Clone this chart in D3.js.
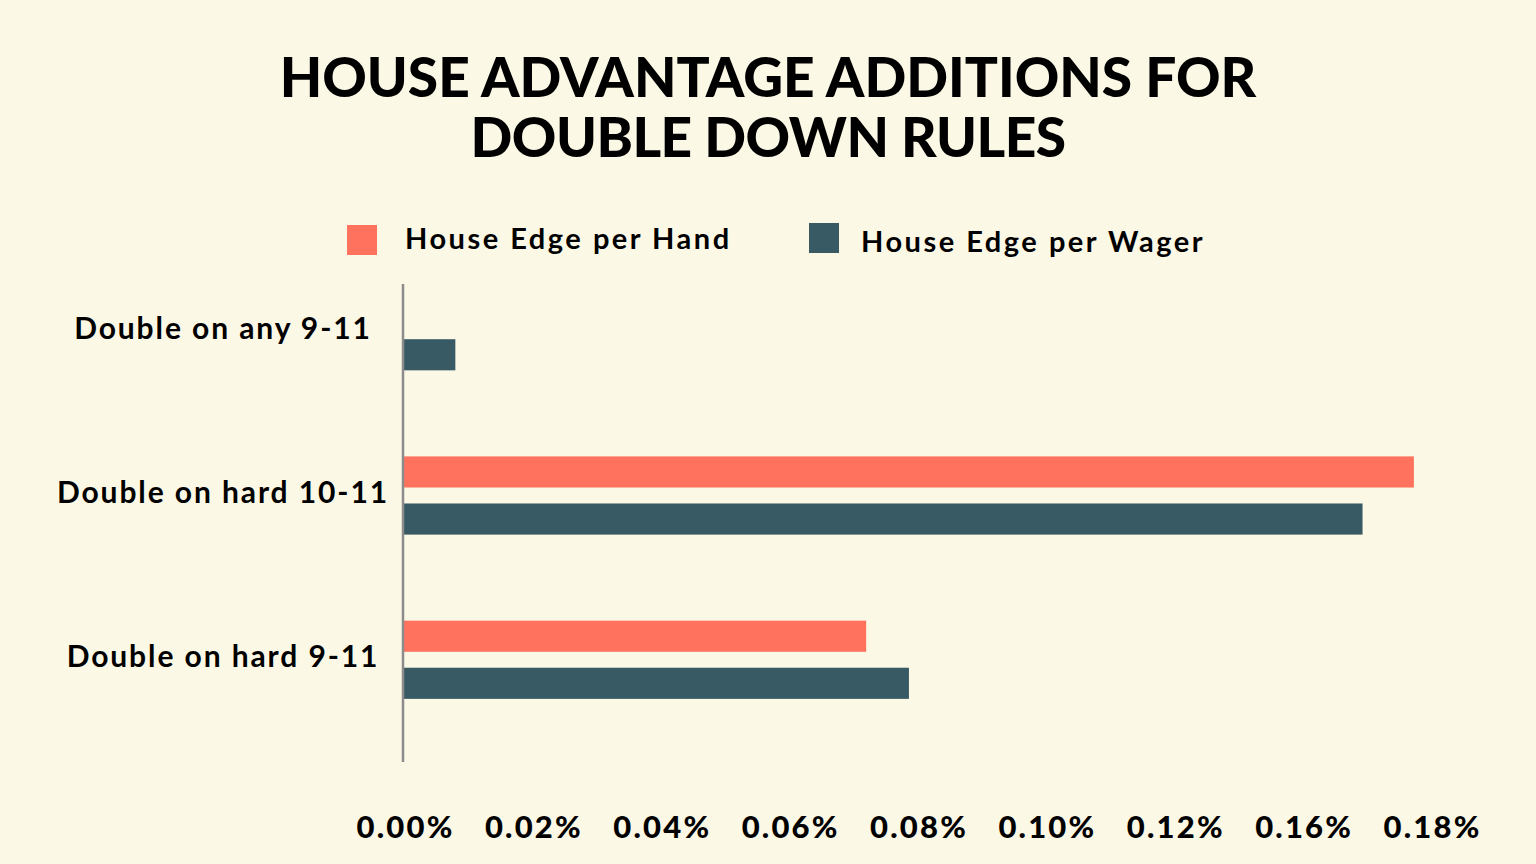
<!DOCTYPE html>
<html lang="en">
<head>
  <meta charset="UTF-8">
  <title>House Advantage Additions for Double Down Rules</title>
  <script src="https://d3js.org/d3.v7.min.js"></script>
  <style>
    html, body { margin: 0; padding: 0; background: #fcf8e6; }
    text { font-family: "Lato", "Open Sans", sans-serif; fill: #000; }
  </style>
</head>
<body>
<svg id="chart" width="1536" height="864"></svg>

<script>
// data (house edge added, in %)
const categories = ["Double on any 9-11", "Double on hard 10-11", "Double on hard 9-11"];
const seriesNames = ["House Edge per Hand", "House Edge per Wager"];
const perHand = [null, 0.177, 0.081];
const perWager = [0.009, 0.168, 0.0885];
const tickLabels = ["0.00%", "0.02%", "0.04%", "0.06%", "0.08%", "0.10%", "0.12%", "0.16%", "0.18%"];
const titleLines = ["HOUSE ADVANTAGE ADDITIONS FOR", "DOUBLE DOWN RULES"];

const colors = { "House Edge per Hand": "#ff725d", "House Edge per Wager": "#385a65" };

const svg = d3.select("#chart");
const width = +svg.attr("width");
const height = +svg.attr("height");

svg.append("rect").attr("width", width).attr("height", height).attr("fill", "#fcf8e6");

// plot area
const left = 404, right = 1431;
const plotTop = 284, plotBottom = 762;

const x = d3.scaleLinear().domain([0, 0.18]).range([left, right]);
const xTicks = d3.scalePoint().domain(tickLabels).range([left, right]);

const y = d3.scaleBand().domain(categories).range([210, 780]).paddingInner(0.53).paddingOuter(0.5);
const yInner = d3.scaleBand().domain(seriesNames).range([0, y.bandwidth()]).paddingInner(0.36);

// title
svg.append("g").selectAll("text")
  .data(titleLines)
  .join("text")
  .attr("x", width / 2)
  .attr("y", (d, i) => 97 + i * 60)
  .attr("text-anchor", "middle")
  .style("font-size", "55px")
  .style("font-weight", 900)
  .style("letter-spacing", (d, i) => i ? "-0.5px" : "0px")
  .text(d => d);

// legend
const legend = svg.append("g").selectAll("g")
  .data(seriesNames)
  .join("g")
  .attr("transform", (d, i) => `translate(${347 + i * 462},${225 - i * 2})`);

legend.append("rect")
  .attr("width", 30)
  .attr("height", 30)
  .attr("fill", d => colors[d]);

legend.append("text")
  .attr("x", (d, i) => i ? 52 : 58)
  .attr("y", (d, i) => i ? 29 : 24)
  .style("font-size", "29px")
  .style("font-weight", 700)
  .style("letter-spacing", "2.5px")
  .text(d => d);

// bars
const rows = categories.map((c, i) => ({
  cat: c,
  values: [
    { key: seriesNames[0], value: perHand[i] },
    { key: seriesNames[1], value: perWager[i] }
  ]
}));

const groups = svg.append("g").selectAll("g")
  .data(rows)
  .join("g")
  .attr("transform", d => `translate(0,${y(d.cat)})`);

groups.selectAll("rect")
  .data(d => d.values.filter(v => v.value != null))
  .join("rect")
  .attr("x", x(0))
  .attr("y", d => yInner(d.key))
  .attr("height", yInner.bandwidth() + 1)
  .attr("width", d => x(d.value) - x(0))
  .attr("fill", d => colors[d.key]);

// category labels
svg.append("g").selectAll("text")
  .data(categories)
  .join("text")
  .attr("x", 223)
  .attr("y", d => y(d) + y.bandwidth() / 2 + 8)
  .attr("text-anchor", "middle")
  .style("font-size", "30px")
  .style("font-weight", 700)
  .style("letter-spacing", "1.9px")
  .text(d => d);

// left axis line
svg.append("line")
  .attr("x1", left - 1).attr("x2", left - 1)
  .attr("y1", plotTop).attr("y2", plotBottom)
  .attr("stroke", "#8c8c8c")
  .attr("stroke-width", 2.5);

// bottom tick labels
const xAxis = svg.append("g")
  .attr("transform", `translate(0,838)`)
  .call(d3.axisBottom(xTicks).tickSize(0).tickPadding(0));
xAxis.select(".domain").remove();
xAxis.selectAll("text")
  .attr("dy", 0)
  .attr("dx", 1)
  .style("font-family", "Lato, sans-serif")
  .style("font-size", "31px")
  .style("font-weight", 900)
  .style("letter-spacing", "2.2px")
  .attr("fill", "#000");
</script>
</body>
</html>
